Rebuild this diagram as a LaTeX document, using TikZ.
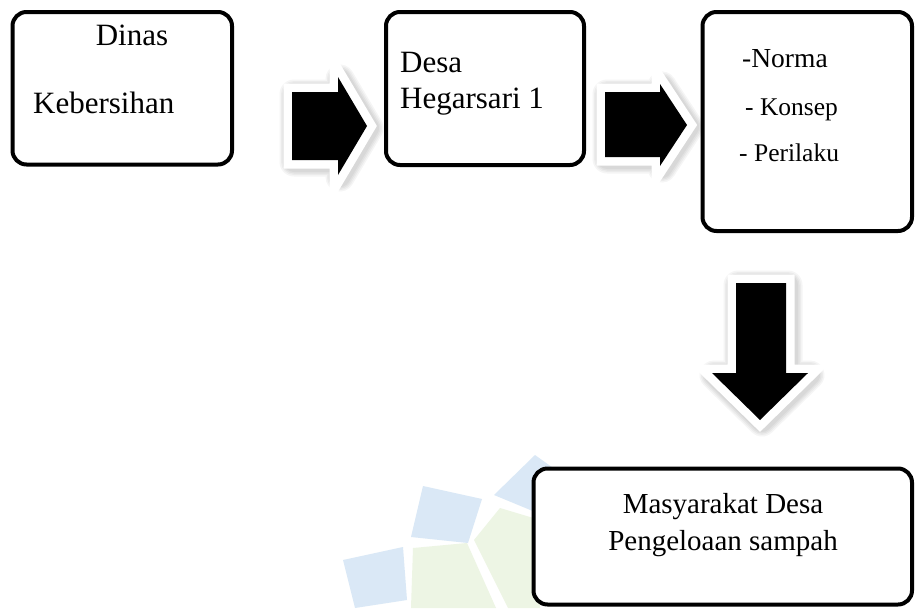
\documentclass[tikz,border=0pt]{standalone}
\usepackage{fontspec}
\setmainfont{Liberation Serif}
\definecolor{wmblue}{RGB}{218,232,246}
\definecolor{wmgreen}{RGB}{237,245,228}
\newcommand{\blockarrow}[1]{%
  \foreach \w in {29,26,23,20}{%
    \draw[black, opacity=0.04, line width=\w pt, line join=round, shift={(2pt,-2pt)}] #1;}
  \draw[white, line width=17pt, line join=miter, miter limit=20] #1;
  \fill[black] #1;}
\begin{document}
\begin{tikzpicture}[x=1pt,y=-1pt,
  box/.style={draw=black, line width=4pt, rounded corners=14pt, fill=white, inner sep=0pt},
  lbl/.style={inner sep=0pt, font=\fontsize{31}{36}\selectfont},
  lblA/.style={inner sep=0pt, font=\fontsize{27.5}{32}\selectfont},
  lblB/.style={inner sep=0pt, font=\fontsize{25.5}{30}\selectfont},
  lblC/.style={inner sep=0pt, font=\fontsize{29}{34}\selectfont},
]
\useasboundingbox (0,0) rectangle (915,608);
\fill[white] (0,0) rectangle (915,608);
% faint watermark
\fill[wmblue] (423,486) -- (482,499) -- (468,543) -- (411,537) -- cycle;
\fill[wmblue] (494,495) -- (535,455) -- (556,470) -- (540,514) -- cycle;
\fill[wmblue] (343,560) -- (403,547) -- (407,600) -- (355,608) -- cycle;
\fill[wmgreen] (413,548) -- (467,543) -- (496,608) -- (411,608) -- cycle;
\fill[wmgreen] (474,540) -- (500,508) -- (540,520) -- (540,608) -- (508,608) -- cycle;
% boxes
\node[box, minimum width=219.5pt, minimum height=152.5pt] (b1) at (122.25,88.25) {};
\node[box, minimum width=198pt, minimum height=153pt] (b2) at (485,88.5) {};
\node[box, minimum width=209.5pt, minimum height=219pt] (b3) at (807.25,121.5) {};
\node[box, minimum width=378.5pt, minimum height=136pt] (b4) at (722.75,536.5) {};
% texts
\node[lbl, anchor=base] (t1) at (132,45) {Dinas};
\node[lbl, anchor=base west] (t2) at (33,113) {Kebersihan};
\node[lbl, anchor=base west] (t3) at (400,72) {Desa};
\node[lbl, anchor=base west] (t4) at (400,108) {Hegarsari 1};
\node[lblA, anchor=base west] (t5) at (742,67) {-Norma};
\node[lblB, anchor=base west] (t6) at (745,115) {-\ Konsep};
\node[lblB, anchor=base west] (t7) at (739,161) {- Perilaku};
\node[lblC, anchor=base] (t8) at (723,513) {Masyarakat Desa};
\node[lblC, anchor=base] (t9) at (723,550) {Pengeloaan sampah};
% block arrows
\blockarrow{(292,92) -- (338,92) -- (338,77) -- (367,126) -- (338,175) -- (338,160) -- (292,160) -- cycle}
\blockarrow{(605,92) -- (660,92) -- (660,84) -- (687,125) -- (660,166) -- (660,157) -- (605,157) -- cycle}
\blockarrow{(736,283) -- (786,283) -- (786,373) -- (808,373) -- (760,420) -- (712,373) -- (736,373) -- cycle}
\end{tikzpicture}
\end{document}
